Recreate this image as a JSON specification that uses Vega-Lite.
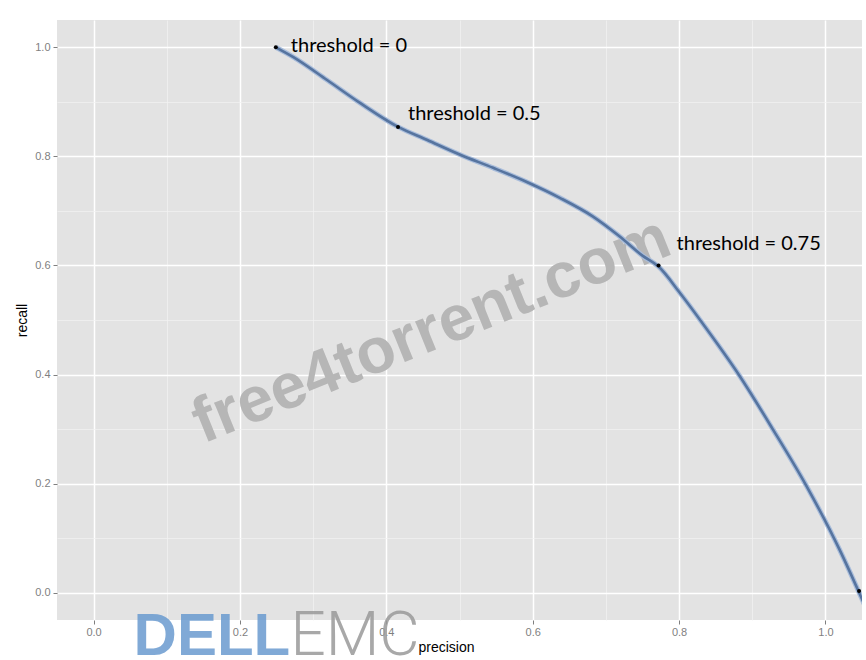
{
  "$schema": "https://vega.github.io/schema/vega-lite/v6.json",
  "width": 805,
  "height": 600,
  "autosize": {"type": "none"},
  "padding": {"left": 57, "top": 20, "right": 4, "bottom": 40},
  "background": "white",
  "config": {"view": {"fill": "#E3E3E3", "stroke": null}},
  "datasets": {
    "curve": [
      {"precision": 0.249, "recall": 1.0},
      {"precision": 0.273, "recall": 0.982},
      {"precision": 0.319, "recall": 0.94},
      {"precision": 0.364, "recall": 0.898},
      {"precision": 0.416, "recall": 0.854},
      {"precision": 0.456, "recall": 0.83},
      {"precision": 0.501, "recall": 0.803},
      {"precision": 0.546, "recall": 0.779},
      {"precision": 0.592, "recall": 0.753},
      {"precision": 0.637, "recall": 0.724},
      {"precision": 0.682, "recall": 0.69},
      {"precision": 0.719, "recall": 0.653},
      {"precision": 0.75, "recall": 0.618},
      {"precision": 0.772, "recall": 0.598},
      {"precision": 0.801, "recall": 0.55},
      {"precision": 0.838, "recall": 0.483},
      {"precision": 0.883, "recall": 0.397},
      {"precision": 0.928, "recall": 0.3},
      {"precision": 0.974, "recall": 0.196},
      {"precision": 1.019, "recall": 0.08},
      {"precision": 1.056, "recall": -0.03}
    ],
    "points": [
      {"precision": 0.249, "recall": 1.0, "label": "threshold = 0"},
      {"precision": 0.416, "recall": 0.854, "label": "threshold = 0.5"},
      {"precision": 0.772, "recall": 0.6, "label": "threshold = 0.75"},
      {"precision": 1.046, "recall": 0.003, "label": ""}
    ],
    "watermark": [
      {"precision": 0.4618, "recall": 0.48, "text": "free4torrent.com"}
    ],
    "logo": [
      {"precision": 0.0546, "recall": -0.115, "part": "DELL"},
      {"precision": 0.269, "recall": -0.115, "part": "EMC"}
    ]
  },
  "layer": [
    {
      "data": {"name": "watermark"},
      "mark": {"type": "text", "align": "center", "baseline": "middle", "angle": -22, "font": "Liberation Sans", "fontWeight": "bold", "fontSize": 64, "color": "#b6b6b6", "opacity": 1},
      "encoding": {
        "x": {
          "field": "precision", "type": "quantitative",
          "scale": {"domain": [-0.05, 1.05], "nice": false, "zero": false},
          "axis": {
            "title": "precision",
            "titleX": 389,
            "values": [0, 0.1, 0.2, 0.3, 0.4, 0.5, 0.6, 0.7, 0.8, 0.9, 1.0],
            "labelExpr": "round(datum.value*10) % 2 == 0 ? format(datum.value, '.1f') : ''",
            "labelOverlap": false,
            "labelFlush": false,
            "domain": false,
            "grid": true,
            "gridColor": {"condition": {"test": "round(datum.value*10) % 2 == 1", "value": "#F2F2F2"}, "value": "#FFFFFF"},
            "gridWidth": {"condition": {"test": "round(datum.value*10) % 2 == 1", "value": 0.7}, "value": 1.5},
            "gridOpacity": 1,
            "tickColor": "#7f7f7f",
            "tickOpacity": {"condition": {"test": "round(datum.value*10) % 2 == 1", "value": 0}, "value": 1},
            "tickSize": 4,
            "labelPadding": 2,
            "labelColor": "#7f7f7f",
            "labelFont": "Liberation Sans",
            "labelFontSize": 11,
            "titleFont": "Liberation Sans",
            "titleFontSize": 14,
            "titleFontWeight": "normal",
            "titleColor": "#000000",
            "titlePadding": 3
          }
        },
        "y": {
          "field": "recall", "type": "quantitative",
          "scale": {"domain": [-0.05, 1.05], "nice": false, "zero": false},
          "axis": {
            "title": "recall",
            "values": [0, 0.1, 0.2, 0.3, 0.4, 0.5, 0.6, 0.7, 0.8, 0.9, 1.0],
            "labelExpr": "round(datum.value*10) % 2 == 0 ? format(datum.value, '.1f') : ''",
            "labelOverlap": false,
            "labelFlush": false,
            "domain": false,
            "grid": true,
            "gridColor": {"condition": {"test": "round(datum.value*10) % 2 == 1", "value": "#F2F2F2"}, "value": "#FFFFFF"},
            "gridWidth": {"condition": {"test": "round(datum.value*10) % 2 == 1", "value": 0.7}, "value": 1.5},
            "gridOpacity": 1,
            "tickColor": "#7f7f7f",
            "tickOpacity": {"condition": {"test": "round(datum.value*10) % 2 == 1", "value": 0}, "value": 1},
            "tickSize": 4,
            "labelPadding": 3,
            "labelColor": "#7f7f7f",
            "labelFont": "Liberation Sans",
            "labelFontSize": 11,
            "titleFont": "Liberation Sans",
            "titleFontSize": 14,
            "titleFontWeight": "normal",
            "titleColor": "#000000",
            "titlePadding": 5
          }
        },
        "text": {"field": "text"}
      }
    },
    {
      "data": {"name": "curve"},
      "mark": {"type": "line", "color": "#a9bddb", "strokeWidth": 5, "interpolate": "monotone", "clip": true},
      "encoding": {
        "x": {"field": "precision", "type": "quantitative"},
        "y": {"field": "recall", "type": "quantitative"}
      }
    },
    {
      "data": {"name": "curve"},
      "mark": {"type": "line", "color": "#56749f", "strokeWidth": 2.6, "interpolate": "monotone", "clip": true},
      "encoding": {
        "x": {"field": "precision", "type": "quantitative"},
        "y": {"field": "recall", "type": "quantitative"}
      }
    },
    {
      "data": {"name": "points"},
      "mark": {"type": "circle", "color": "#000000", "size": 16, "opacity": 1},
      "encoding": {
        "x": {"field": "precision", "type": "quantitative"},
        "y": {"field": "recall", "type": "quantitative"}
      }
    },
    {
      "data": {"name": "points"},
      "transform": [{"filter": "datum.label == 'threshold = 0'"}],
      "mark": {"type": "text", "align": "left", "baseline": "middle", "dx": 15, "dy": -1, "font": "Lato", "fontSize": 20, "color": "#000000"},
      "encoding": {
        "x": {"field": "precision", "type": "quantitative"},
        "y": {"field": "recall", "type": "quantitative"},
        "text": {"field": "label"}
      }
    },
    {
      "data": {"name": "points"},
      "transform": [{"filter": "datum.label == 'threshold = 0.5'"}],
      "mark": {"type": "text", "align": "left", "baseline": "middle", "dx": 10, "dy": -13, "font": "Lato", "fontSize": 20, "color": "#000000"},
      "encoding": {
        "x": {"field": "precision", "type": "quantitative"},
        "y": {"field": "recall", "type": "quantitative"},
        "text": {"field": "label"}
      }
    },
    {
      "data": {"name": "points"},
      "transform": [{"filter": "datum.label == 'threshold = 0.75'"}],
      "mark": {"type": "text", "align": "left", "baseline": "middle", "dx": 18, "dy": -21, "font": "Lato", "fontSize": 20, "color": "#000000"},
      "encoding": {
        "x": {"field": "precision", "type": "quantitative"},
        "y": {"field": "recall", "type": "quantitative"},
        "text": {"field": "label"}
      }
    },
    {
      "data": {"name": "logo"},
      "transform": [{"filter": "datum.part == 'DELL'"}],
      "mark": {"type": "text", "align": "left", "baseline": "alphabetic", "font": "Liberation Sans", "fontWeight": "bold", "fontSize": 60, "color": "#6a9bd0", "opacity": 0.85},
      "encoding": {
        "x": {"field": "precision", "type": "quantitative"},
        "y": {"field": "recall", "type": "quantitative"},
        "text": {"field": "part"}
      }
    },
    {
      "data": {"name": "logo"},
      "transform": [{"filter": "datum.part == 'EMC'"}],
      "mark": {"type": "text", "align": "left", "baseline": "alphabetic", "font": "Roboto", "fontWeight": 300, "fontSize": 62, "color": "#9a9a9a", "opacity": 0.85},
      "encoding": {
        "x": {"field": "precision", "type": "quantitative"},
        "y": {"field": "recall", "type": "quantitative"},
        "text": {"field": "part"}
      }
    }
  ]
}
